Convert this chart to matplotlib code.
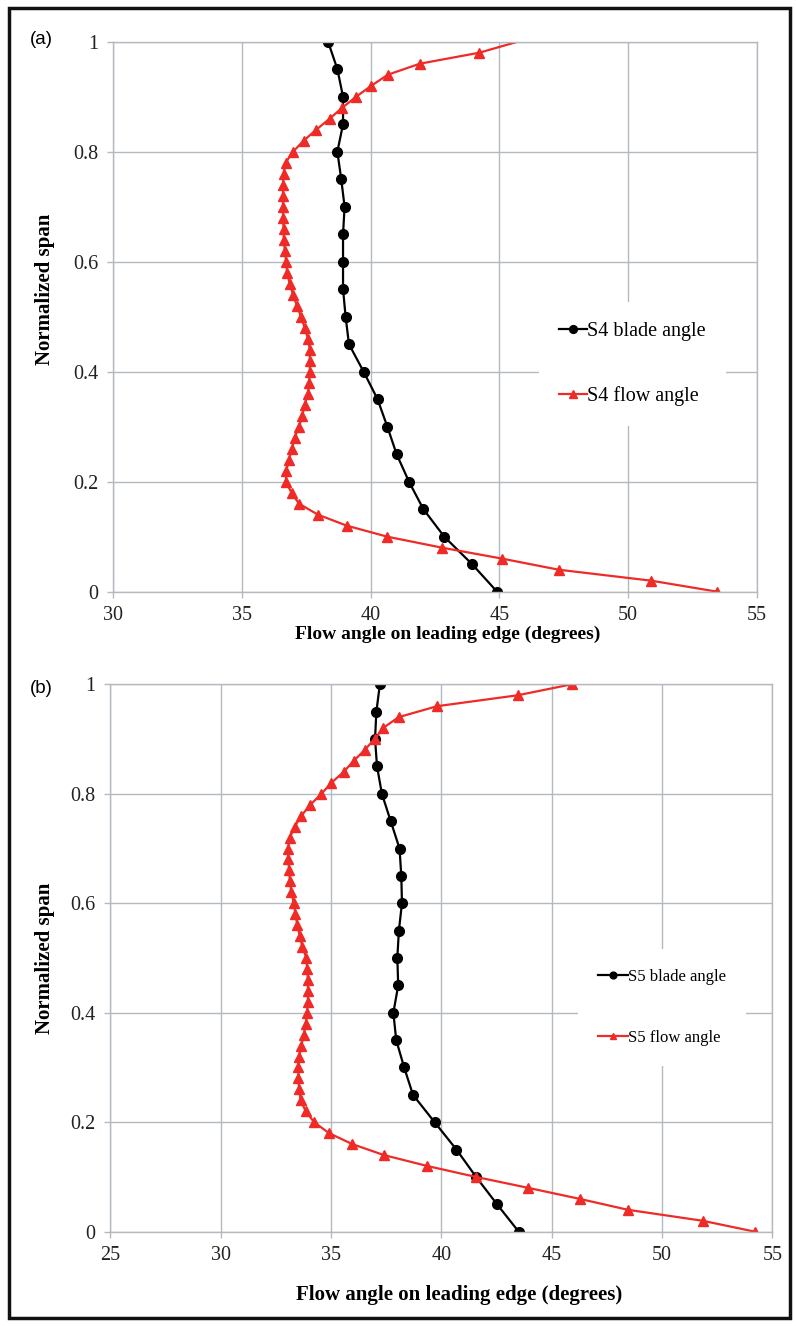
import matplotlib
matplotlib.use("Agg")
import matplotlib.pyplot as plt
from matplotlib.patches import Rectangle

# Panel (a): S4
s4_blade_span = [1.0, 0.95, 0.90, 0.85, 0.80, 0.75, 0.70, 0.65, 0.60, 0.55, 0.50,
                 0.45, 0.40, 0.35, 0.30, 0.25, 0.20, 0.15, 0.10, 0.05, 0.0]
s4_blade_angle = [38.35, 38.71, 38.93, 38.93, 38.71, 38.86, 38.99, 38.93, 38.93, 38.93, 39.03,
                  39.16, 39.73, 40.27, 40.65, 41.01, 41.49, 42.05, 42.86, 43.94, 44.91]

s4_flow_span = [1.0, 0.98, 0.96, 0.94, 0.92, 0.90, 0.88, 0.86, 0.84, 0.82, 0.80,
                0.78, 0.76, 0.74, 0.72, 0.70, 0.68, 0.66, 0.64, 0.62, 0.60,
                0.58, 0.56, 0.54, 0.52, 0.50, 0.48, 0.46, 0.44, 0.42, 0.40,
                0.38, 0.36, 0.34, 0.32, 0.30, 0.28, 0.26, 0.24, 0.22, 0.20,
                0.18, 0.16, 0.14, 0.12, 0.10, 0.08, 0.06, 0.04, 0.02, 0.0]
s4_flow_angle = [45.71, 44.22, 41.91, 40.67, 40.03, 39.44, 38.90, 38.41, 37.89, 37.40, 36.99,
                 36.70, 36.62, 36.60, 36.60, 36.60, 36.60, 36.62, 36.63, 36.67, 36.72,
                 36.76, 36.86, 36.99, 37.14, 37.30, 37.44, 37.57, 37.64, 37.64, 37.64,
                 37.61, 37.57, 37.44, 37.35, 37.22, 37.05, 36.95, 36.83, 36.73, 36.71,
                 36.93, 37.22, 37.96, 39.08, 40.65, 42.78, 45.12, 47.30, 50.90, 53.46]

# Panel (b): S5
s5_blade_span = s4_blade_span
s5_blade_angle = [37.22, 37.06, 37.00, 37.09, 37.31, 37.71, 38.11, 38.19, 38.22, 38.08, 38.01,
                  38.05, 37.83, 37.96, 38.32, 38.72, 39.70, 40.69, 41.58, 42.53, 43.51]

s5_flow_span = s4_flow_span
s5_flow_angle = [45.91, 43.47, 39.81, 38.07, 37.36, 36.98, 36.53, 36.03, 35.58, 35.02, 34.57,
                 34.07, 33.66, 33.36, 33.14, 33.06, 33.06, 33.11, 33.14, 33.21, 33.32,
                 33.39, 33.48, 33.59, 33.71, 33.89, 33.92, 33.96, 33.96, 33.96, 33.92,
                 33.86, 33.77, 33.66, 33.56, 33.53, 33.53, 33.56, 33.63, 33.86, 34.24,
                 34.92, 35.97, 37.40, 39.37, 41.58, 43.95, 46.27, 48.46, 51.84, 54.22]

RED = "#ee2b26"
GRID = "#b4b8bf"
SERIF = "Liberation Serif"
W, H = 796, 1326


def px_axes(fig, left, top, right, bottom):
    return fig.add_axes([left / W, 1 - bottom / H, (right - left) / W, (bottom - top) / H])


def style_axes(ax, xlim, xticks, fs):
    ax.set_xlim(*xlim)
    ax.set_ylim(0, 1)
    ax.set_xticks(xticks)
    ax.set_yticks([0, 0.2, 0.4, 0.6, 0.8, 1.0])
    ax.set_yticklabels(["0", "0.2", "0.4", "0.6", "0.8", "1"])
    ax.grid(True, color=GRID, linewidth=1.0)
    ax.set_axisbelow(True)
    for s in ax.spines.values():
        s.set_color(GRID)
        s.set_linewidth(1.0)
    ax.tick_params(colors=GRID, length=4.5, width=1.0, labelcolor="#222222",
                   labelsize=fs, pad=6)
    for lab in ax.get_xticklabels() + ax.get_yticklabels():
        lab.set_family(SERIF)


fig = plt.figure(figsize=(W / 100, H / 100), dpi=100)
fig.patches.append(Rectangle((9 / W, 8 / H), 781 / W, 1310 / H, transform=fig.transFigure,
                             fill=False, edgecolor="#111111", linewidth=2.5))

# --- (a)
ax1 = px_axes(fig, 113, 41.7, 757, 591.7)
style_axes(ax1, (30, 55), [30, 35, 40, 45, 50, 55], 14.5)
ax1.plot(s4_blade_angle, s4_blade_span, color="black", linewidth=1.6,
         marker="o", markersize=7, label="S4 blade angle")
ax1.plot(s4_flow_angle, s4_flow_span, color=RED, linewidth=1.6, marker="^",
         markersize=6.5, markevery=list(range(1, len(s4_flow_span))), label="S4 flow angle")
ax1.set_xlabel("Flow angle on leading edge (degrees)", fontsize=14, fontweight="bold",
               family=SERIF)
ax1.xaxis.set_label_coords(0.52, -0.062)
ax1.set_ylabel("Normalized span", fontsize=15, fontweight="bold", family=SERIF)
ax1.yaxis.set_label_coords(-0.09, 0.55)
leg1 = ax1.legend(loc="center", bbox_to_anchor=(0.806, 0.414), frameon=True,
                  prop={"family": SERIF, "size": 14.5}, handlelength=1.4, handletextpad=0.0,
                  labelspacing=2.2, borderpad=1.0, markerscale=0.8)
leg1.get_frame().set_edgecolor("none")
leg1.get_frame().set_alpha(1)
fig.text(30 / W, 1 - 40 / H, "(a)", fontsize=13.5, family="Liberation Sans", va="center")

# --- (b)
ax2 = px_axes(fig, 110.2, 684.3, 772.3, 1231.7)
style_axes(ax2, (25, 55), [25, 30, 35, 40, 45, 50, 55], 14.5)
ax2.plot(s5_blade_angle, s5_blade_span, color="black", linewidth=1.6,
         marker="o", markersize=7, label="S5 blade angle")
ax2.plot(s5_flow_angle, s5_flow_span, color=RED, linewidth=1.6, marker="^",
         markersize=7, label="S5 flow angle")
ax2.set_xlabel("Flow angle on leading edge (degrees)", fontsize=15, fontweight="bold",
               family=SERIF)
ax2.xaxis.set_label_coords(0.527, -0.097)
ax2.set_ylabel("Normalized span", fontsize=15, fontweight="bold", family=SERIF)
ax2.yaxis.set_label_coords(-0.083, 0.5)
leg2 = ax2.legend(loc="center", bbox_to_anchor=(0.834, 0.41), frameon=True,
                  prop={"family": SERIF, "size": 12}, handlelength=1.8, handletextpad=0.0,
                  labelspacing=2.7, borderpad=1.2, markerscale=0.7)
leg2.get_frame().set_edgecolor("none")
leg2.get_frame().set_alpha(1)
fig.text(30 / W, 1 - 688 / H, "(b)", fontsize=13.5, family="Liberation Sans", va="center")

fig.savefig("out.png", dpi=100)
